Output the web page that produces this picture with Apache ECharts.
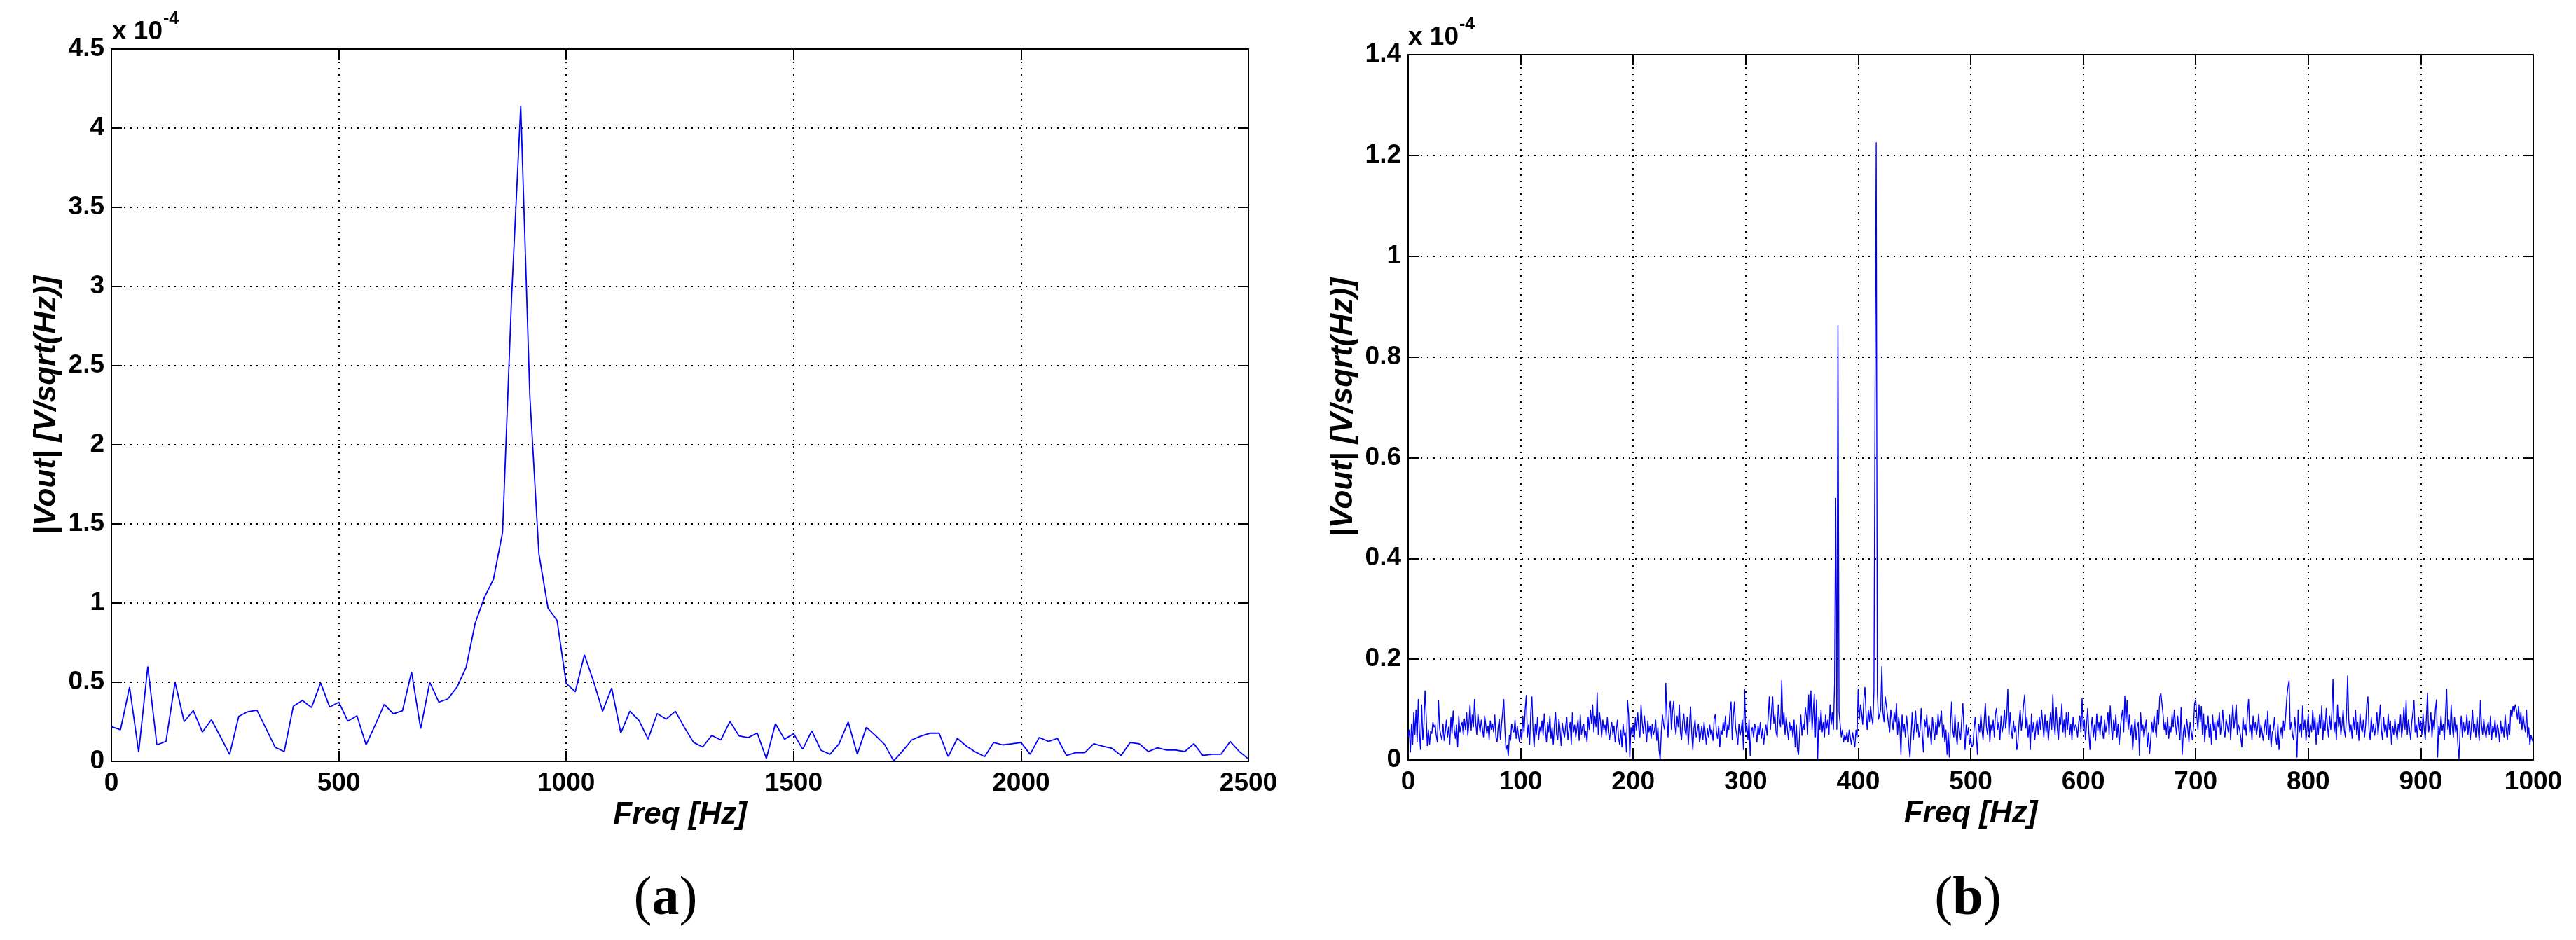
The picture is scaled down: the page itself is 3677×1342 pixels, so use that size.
<!DOCTYPE html>
<html><head><meta charset="utf-8">
<script src="https://cdn.jsdelivr.net/npm/echarts/dist/echarts.min.js"></script>
<style>html,body{margin:0;padding:0;background:#fff}#c{width:3677px;height:1342px}</style>
</head><body><div id="c"></div><script>
// ---------------- DATA ----------------
// Panel (a): |Vout| in units of 1e-4 V/sqrt(Hz), one value per 20 Hz bin, 0..2500 Hz
const STEP_A = 20;
const valuesA = [
  0.22, 0.20, 0.469, 0.059, 0.599, 0.104, 0.126, 0.50, 0.251, 0.321,
  0.185, 0.263, 0.155, 0.044, 0.284, 0.314, 0.324, 0.207, 0.089, 0.062,
  0.348, 0.385, 0.34, 0.496, 0.343, 0.374, 0.254, 0.288, 0.104, 0.23,
  0.36, 0.30, 0.32, 0.565, 0.207, 0.50, 0.374, 0.395, 0.47, 0.595,
  0.874, 1.035, 1.15, 1.446, 2.94, 4.14, 2.31, 1.31, 0.968, 0.889,
  0.493, 0.44, 0.674, 0.507, 0.317, 0.463, 0.179, 0.317, 0.258, 0.141,
  0.302, 0.267, 0.317, 0.214, 0.12, 0.091, 0.164, 0.135, 0.252, 0.161,
  0.15, 0.179, 0.018, 0.238, 0.14, 0.175, 0.077, 0.193, 0.071, 0.045,
  0.111, 0.249, 0.045, 0.215, 0.163, 0.107, 0.003, 0.067, 0.136, 0.16,
  0.178, 0.178, 0.03, 0.145, 0.096, 0.059, 0.03, 0.119, 0.104, 0.111,
  0.119, 0.045, 0.151, 0.126, 0.145, 0.037, 0.055, 0.055, 0.111, 0.096,
  0.082, 0.037, 0.119, 0.111, 0.062, 0.086, 0.071, 0.071, 0.062, 0.111,
  0.037, 0.045, 0.045, 0.126, 0.062, 0.015
];
// Panel (b): |Vout| in units of 1e-7 V/sqrt(Hz) (i.e. thousandths of 1e-4), one value per 1 Hz, 0..1000 Hz
const STEP_B = 1;
const valuesB = [
  45,60,15,72,30,95,50,100,35,121,55,20,110,40,70,138,90,28,60,30,
  58,52,75,65,70,48,35,118,62,50,40,72,38,55,80,45,66,30,85,52,
  98,60,42,70,25,88,55,68,75,50,82,60,95,48,72,110,58,90,65,121,
  75,50,92,70,55,80,62,45,88,70,52,68,40,78,60,72,55,90,45,35,
  65,82,40,70,95,121,60,20,30,7,50,38,72,60,55,80,42,68,50,35,
  60,40,88,55,100,129,45,70,30,95,126,60,25,72,50,85,40,66,55,78,
  48,92,60,35,75,55,88,42,65,30,70,96,50,40,82,60,28,74,55,45,
  68,85,40,60,75,30,95,55,70,45,62,80,38,90,50,66,72,44,58,35,
  85,60,100,72,110,55,88,65,134,50,95,75,45,80,60,70,48,85,55,40,
  62,75,50,68,35,58,80,45,30,60,25,72,48,55,15,118,90,5,65,50,
  70,40,85,58,95,62,45,110,75,52,88,60,35,78,55,68,42,72,50,60,
  80,38,65,20,1,55,90,70,60,153,85,45,100,117,60,95,117,70,50,88,
  65,110,55,40,75,92,60,48,85,30,70,106,55,20,62,80,45,58,72,35,
  50,68,40,75,55,30,62,45,70,50,60,38,82,91,55,42,68,25,60,50,
  75,58,88,45,70,60,95,116,40,85,116,65,50,30,72,48,60,80,20,141,
  55,70,40,80,7,58,65,45,72,60,35,68,50,75,42,62,30,55,70,48,
  85,126,60,100,126,72,90,55,45,110,80,65,158,70,95,50,85,62,40,75,
  58,68,45,80,25,70,20,10,55,90,48,72,60,105,85,50,130,75,138,60,
  95,131,45,120,2,85,60,100,55,75,45,90,62,80,50,110,70,95,60,151,
  520,60,863,96,70,45,60,35,50,40,55,35,60,45,30,55,40,25,60,45,
  141,80,110,95,70,120,145,90,60,100,75,107,85,70,136,730,1226,134,80,90,
  100,186,95,75,126,126,90,70,55,100,80,60,95,75,113,50,85,65,10,90,
  55,72,45,88,60,30,5,50,95,40,68,98,55,72,45,60,103,50,15,80,
  65,90,45,70,55,30,85,60,40,75,50,92,65,80,98,45,70,35,60,10,
  55,5,70,116,60,45,90,50,30,75,58,40,80,113,60,20,70,48,65,30,
  45,25,30,62,85,50,10,72,55,90,60,40,78,113,65,50,88,35,70,58,
  80,45,92,103,60,75,40,88,55,70,100,62,85,141,50,95,60,42,78,55,
  68,20,35,75,100,58,80,110,130,62,85,45,70,20,92,55,75,40,65,80,
  50,85,60,100,72,45,90,55,78,38,68,95,60,130,75,50,105,62,40,85,
  70,112,55,80,45,95,60,96,50,72,40,85,58,70,65,45,75,88,55,123,
  60,80,40,70,103,55,20,65,85,45,70,38,92,58,75,50,88,60,42,80,
  55,70,95,50,108,65,40,80,58,90,45,72,30,62,85,100,55,128,75,118,
  60,90,48,70,20,55,82,40,66,75,8,95,58,70,45,62,80,25,55,12,
  40,75,55,88,62,45,100,70,125,133,133,90,60,75,50,85,42,68,55,90,
  65,100,72,50,88,60,40,105,10,55,70,45,82,60,35,75,58,40,65,112,
  120,85,60,110,75,107,50,92,35,70,60,88,45,72,30,90,58,75,40,80,
  65,95,50,70,100,60,45,82,68,55,90,40,75,110,62,85,110,50,70,60,
  45,25,85,60,72,48,95,121,55,70,40,88,58,75,50,65,92,45,70,55,
  38,62,80,50,98,40,70,25,55,60,85,45,30,72,20,50,65,42,78,58,
  90,125,145,158,60,75,50,40,85,60,5,100,55,72,45,108,60,80,38,65,
  92,45,70,55,100,60,85,30,75,50,90,62,108,40,80,58,103,70,45,88,
  60,95,161,55,75,40,110,65,85,50,70,100,60,45,90,168,80,55,70,42,
  85,60,100,50,75,38,92,65,55,80,45,70,110,126,60,40,85,55,72,48,
  65,95,50,75,110,60,40,85,55,70,45,92,60,78,30,68,50,82,58,40,
  72,55,90,45,68,105,60,118,50,80,62,40,75,95,118,55,70,45,85,60,
  78,50,92,62,40,85,133,55,70,95,45,80,60,100,120,5,68,50,88,58,
  72,40,95,141,60,80,50,110,65,45,85,55,70,30,2,60,88,45,75,55,
  62,90,50,78,40,68,100,55,72,45,85,60,38,118,70,50,82,58,44,65,
  75,50,88,40,68,55,80,45,70,60,35,78,52,66,45,90,58,40,72,50,
  100,85,107,95,110,100,80,107,72,95,60,88,70,55,100,45,65,30,50,40,
  35
];
// Axis ranges / ticks
const axisA = {xMin: 0, xMax: 2500, xInterval: 500, yMin: 0, yMax: 4.5, yInterval: 0.5};
const axisB = {xMin: 0, xMax: 1000, xInterval: 100, yMin: 0, yMax: 1.4, yInterval: 0.2};
const xTitle = 'Freq [Hz]';
const yTitle = '|Vout| [V/sqrt(Hz)]';
const exponentText = ['x 10', '-4'];
const captions = ['a', 'b'];

// ---------------- CHART ----------------
const FONT = '"Liberation Sans", Arial, Helvetica, sans-serif';
const SERIF = '"Liberation Serif", "Times New Roman", serif';
const BLACK = '#000';
const fmt = v => String(+v.toFixed(6));
const labelStyle = {color: BLACK, fontSize: 37, fontWeight: 'bold', fontFamily: FONT, formatter: fmt};
const titleStyle = {color: BLACK, fontSize: 44, fontWeight: 'bold', fontStyle: 'italic', fontFamily: FONT};
const tick = {show: true, inside: true, length: 15, lineStyle: {color: BLACK, width: 2}};
const aLine = {show: true, onZero: false, lineStyle: {color: BLACK, width: 2}};
const grid = {show: true, lineStyle: {color: BLACK, width: 2, type: [2, 7]}};

function xAxes(gi, a) {
  return [
    {type: 'value', gridIndex: gi, position: 'bottom', min: a.xMin, max: a.xMax, interval: a.xInterval,
     axisLine: aLine, axisTick: tick, splitLine: grid,
     axisLabel: Object.assign({margin: 13, showMinLabel: true, showMaxLabel: true}, labelStyle),
     name: xTitle, nameLocation: 'middle', nameGap: 52, nameTextStyle: titleStyle},
    {type: 'value', gridIndex: gi, position: 'top', min: a.xMin, max: a.xMax, interval: a.xInterval,
     axisLine: aLine, axisTick: tick, splitLine: {show: false}, axisLabel: {show: false}}
  ];
}
function yAxes(gi, a) {
  return [
    {type: 'value', gridIndex: gi, position: 'left', min: a.yMin, max: a.yMax, interval: a.yInterval,
     axisLine: aLine, axisTick: tick, splitLine: grid,
     axisLabel: Object.assign({margin: 10, showMinLabel: true, showMaxLabel: true}, labelStyle),
     name: yTitle, nameLocation: 'middle', nameRotate: 90, nameGap: 70, nameTextStyle: titleStyle},
    {type: 'value', gridIndex: gi, position: 'right', min: a.yMin, max: a.yMax, interval: a.yInterval,
     axisLine: aLine, axisTick: tick, splitLine: {show: false}, axisLabel: {show: false}}
  ];
}

const dataA = valuesA.map((v, i) => [i * STEP_A, v]);
const dataB = valuesB.map((v, i) => [i * STEP_B, v / 1000]);

const chart = echarts.init(document.getElementById('c'), null, {renderer: 'canvas'});
const capRich = {p: {fontFamily: SERIF, fontSize: 78, color: BLACK}, b: {fontFamily: SERIF, fontSize: 78, fontWeight: 'bold', color: BLACK}};
chart.setOption({
  animation: false,
  backgroundColor: '#fff',
  grid: [
    {left: 159, top: 70, width: 1623, height: 1017, containLabel: false, outerBoundsMode: 'none'},
    {left: 2010, top: 78, width: 1606, height: 1007, containLabel: false, outerBoundsMode: 'none'}
  ],
  xAxis: xAxes(0, axisA).concat(xAxes(1, axisB)),
  yAxis: yAxes(0, axisA).concat(yAxes(1, axisB)),
  series: [
    {type: 'line', xAxisIndex: 0, yAxisIndex: 0, data: dataA, showSymbol: false, symbol: 'none',
     lineStyle: {color: '#0000ff', width: 1.8}, silent: true},
    {type: 'line', xAxisIndex: 2, yAxisIndex: 2, data: dataB, showSymbol: false, symbol: 'none', sampling: null,
     lineStyle: {color: '#0000ff', width: 1.4}, silent: true}
  ],
  graphic: [
    {type: 'text', left: 160, top: 27, style: {text: exponentText[0], font: 'bold 37px ' + FONT, fill: BLACK}},
    {type: 'text', left: 233, top: 15, style: {text: exponentText[1], font: 'bold 25px ' + FONT, fill: BLACK}},
    {type: 'text', left: 2010, top: 35, style: {text: exponentText[0], font: 'bold 37px ' + FONT, fill: BLACK}},
    {type: 'text', left: 2083, top: 23, style: {text: exponentText[1], font: 'bold 25px ' + FONT, fill: BLACK}},
    {type: 'text', x: 950, y: 1285, style: {text: '{p|(}{b|' + captions[0] + '}{p|)}', rich: capRich, align: 'center', verticalAlign: 'middle'}},
    {type: 'text', x: 2809, y: 1285, style: {text: '{p|(}{b|' + captions[1] + '}{p|)}', rich: capRich, align: 'center', verticalAlign: 'middle'}}
  ]
});
</script></body></html>
